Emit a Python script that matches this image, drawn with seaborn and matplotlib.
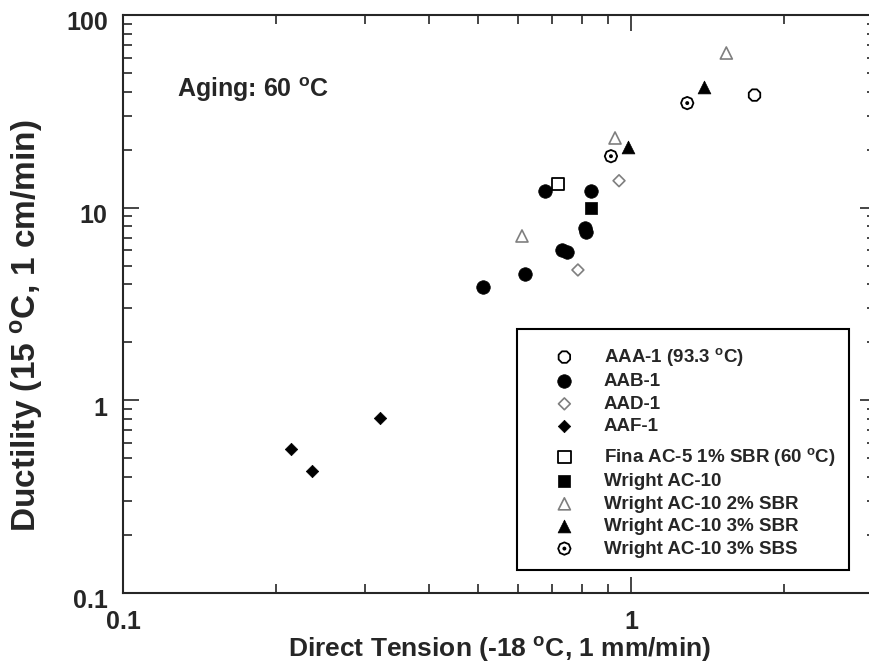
import numpy as np
import matplotlib
matplotlib.use("Agg")
import matplotlib.pyplot as plt
import matplotlib.transforms as mtransforms
from matplotlib.path import Path
from matplotlib.patches import Rectangle
from matplotlib.ticker import LogLocator, NullFormatter
import seaborn as sns

# --- values ---
aaa1_x = [1.75]
aaa1_y = [38.4]
aab1_x = [0.677, 0.834, 0.810, 0.815, 0.732, 0.748, 0.618, 0.511]
aab1_y = [12.2, 12.2, 7.85, 7.5, 6.03, 5.89, 4.53, 3.88]
aad1_x = [0.947, 0.786]
aad1_y = [13.8, 4.75]
aaf1_x = [0.214, 0.236, 0.321]
aaf1_y = [0.56, 0.43, 0.81]
fina_x = [0.718]
fina_y = [13.3]
wright_x = [0.834]
wright_y = [9.96]
sbr2_x = [1.54, 0.93, 0.61]
sbr2_y = [63.5, 23.0, 7.13]
sbr3_x = [1.39, 0.987]
sbr3_y = [42.3, 20.7]
sbs3_x = [1.29, 0.913]
sbs3_y = [34.9, 18.5]

deg = r"$^{\rm o}$"
labels = [f"AAA-1 (93.3 {deg}C)", "AAB-1", "AAD-1", "AAF-1",
          f"Fina AC-5 1% SBR (60 {deg}C)", "Wright AC-10", "Wright AC-10 2% SBR",
          "Wright AC-10 3% SBR", "Wright AC-10 3% SBS"]
xticks_major = [0.1, 1]
yticks_major = [0.1, 1, 10, 100]

sns.set_style("ticks")
plt.rcParams["font.family"] = ["Liberation Sans", "DejaVu Sans"]
plt.rcParams["font.weight"] = "bold"
plt.rcParams["mathtext.fontset"] = "custom"
plt.rcParams["mathtext.rm"] = "Liberation Sans:bold"
plt.rcParams["mathtext.bf"] = "Liberation Sans:bold"
plt.rcParams["mathtext.it"] = "Liberation Sans:bold:italic"

# octagon with a dot in the middle for the SBS series
octagon = Path.unit_regular_polygon(8)
dot_oct = Path.make_compound_path(octagon, Path(octagon.vertices * 0.18, octagon.codes))

gray = "#7f7f7f"
series = [
    (aaa1_x, aaa1_y, dict(marker="8", s=80, facecolor="none", edgecolor="k", linewidth=1.3)),
    (aab1_x, aab1_y, dict(marker="o", s=95, facecolor="k", edgecolor="k", linewidth=0.5)),
    (aad1_x, aad1_y, dict(marker="D", s=36, facecolor="none", edgecolor=gray, linewidth=1.2)),
    (aaf1_x, aaf1_y, dict(marker="D", s=40, facecolor="k", edgecolor="k", linewidth=0.5)),
    (fina_x, fina_y, dict(marker="s", s=80, facecolor="none", edgecolor="k", linewidth=1.3)),
    (wright_x, wright_y, dict(marker="s", s=80, facecolor="k", edgecolor="k", linewidth=0.5)),
    (sbr2_x, sbr2_y, dict(marker="^", s=75, facecolor="none", edgecolor=gray, linewidth=1.2)),
    (sbr3_x, sbr3_y, dict(marker="^", s=85, facecolor="k", edgecolor="k", linewidth=0.5)),
    (sbs3_x, sbs3_y, dict(marker=dot_oct, s=80, facecolor="none", edgecolor="k", linewidth=1.3)),
]

fig = plt.figure(figsize=(8.7, 6.64), dpi=100)
# right edge of the plot runs just past the image, as in the reference
ax = fig.add_axes([123 / 870, 71 / 664, 753 / 870, 578 / 664])

for (xs, ys, kw), lab in zip(series, labels):
    sns.scatterplot(x=xs, y=ys, ax=ax, label=lab, legend=False, zorder=3, **kw)

ax.set_xscale("log")
ax.set_yscale("log")
ax.set_xlim(0.1, 3.035)
ax.set_ylim(0.1, 100)

ax.set_xticks(xticks_major, [str(v) for v in xticks_major])
ax.set_yticks(yticks_major, [str(v) for v in yticks_major])
ax.xaxis.set_minor_locator(LogLocator(base=10, subs=np.arange(2, 10)))
ax.yaxis.set_minor_locator(LogLocator(base=10, subs=np.arange(2, 10)))
ax.xaxis.set_minor_formatter(NullFormatter())
ax.yaxis.set_minor_formatter(NullFormatter())

ax.tick_params(which="both", direction="in", top=True, right=True, width=1.2, labelsize=18)
ax.tick_params(which="major", length=11.5)
ax.tick_params(which="minor", length=6.5)
ax.tick_params(axis="x", pad=12)
ax.tick_params(axis="y", pad=11)
for sp in ax.spines.values():
    sp.set_linewidth(1.5)

# y tick labels sit slightly below their ticks in the reference
shift = mtransforms.ScaledTranslation(0, -6 / 100, fig.dpi_scale_trans)
for t in ax.get_yticklabels():
    t.set_transform(t.get_transform() + shift)

ax.set_xlabel(f"Direct Tension (-18 {deg}C, 1 mm/min)", fontsize=19, fontweight="bold", labelpad=1)
ax.set_ylabel(f"Ductility (15 {deg}C, 1 cm/min)", fontsize=24, fontweight="bold")
ax.yaxis.set_label_coords(45 / 870, 1 - 326 / 664, transform=fig.transFigure)

ax.text(0.072, 0.858, f"Aging: 60 {deg}C", transform=ax.transAxes, fontsize=18,
        fontweight="bold", va="baseline", ha="left")

# legend: two groups inside one frame
handles, labs = ax.get_legend_handles_labels()
leg_kw = dict(loc="upper left", bbox_transform=fig.transFigure, frameon=False,
              borderpad=0, borderaxespad=0, handlelength=1.0, handletextpad=1.6,
              labelspacing=0.28, scatterpoints=1, fontsize=13.5)
leg1 = ax.legend(handles[:4], labs[:4], bbox_to_anchor=(555 / 870, 1 - 346 / 664), **leg_kw)
ax.add_artist(leg1)
ax.legend(handles[4:], labs[4:], bbox_to_anchor=(555 / 870, 1 - 446 / 664), **leg_kw)
ax.add_patch(Rectangle((517 / 870, 1 - 570 / 664), (849 - 517) / 870, (570 - 329) / 664,
                       transform=fig.transFigure, fill=False, lw=1.5, ec="k", clip_on=False))

fig.savefig("out.png", dpi=100)
